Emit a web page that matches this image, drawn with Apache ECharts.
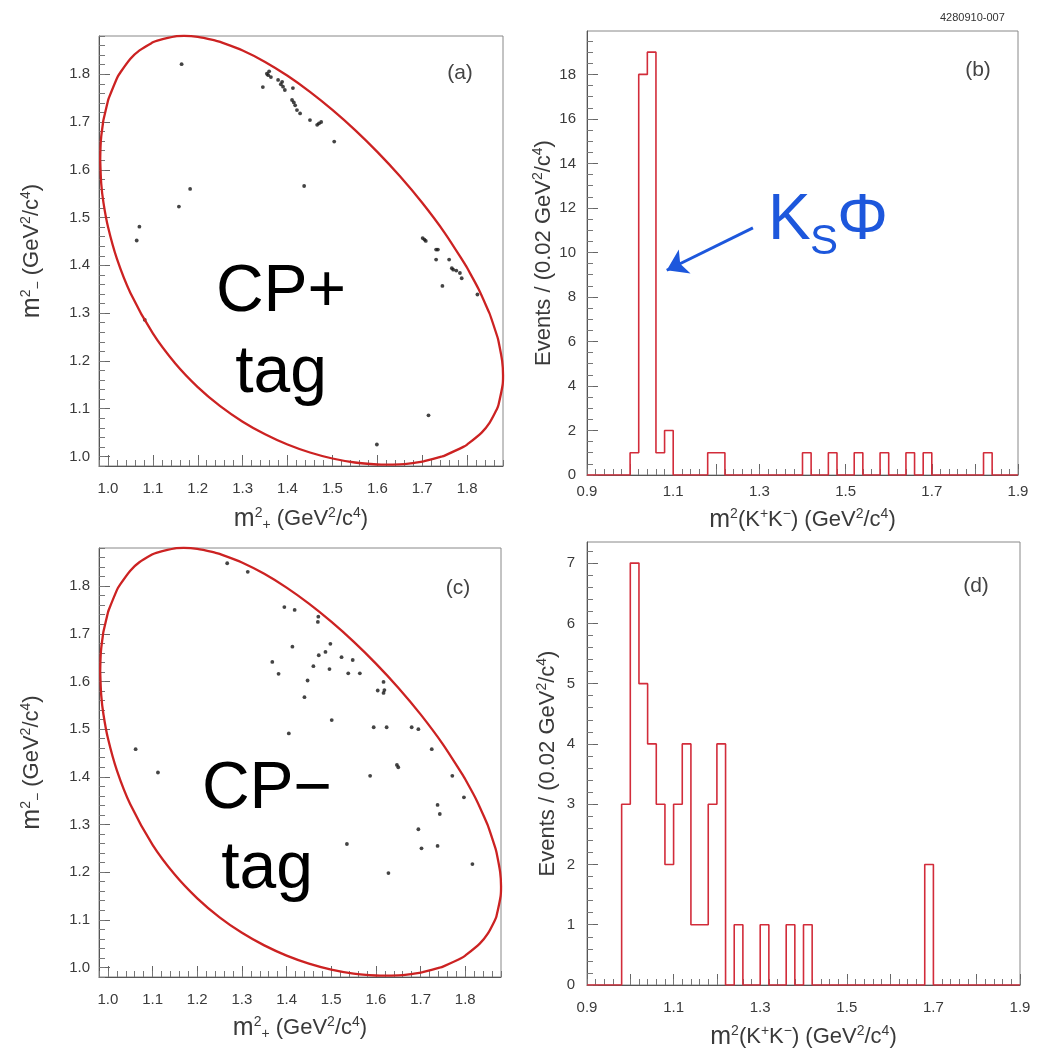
<!DOCTYPE html>
<html><head><meta charset="utf-8">
<script src="https://cdn.jsdelivr.net/npm/echarts@6/dist/echarts.min.js"></script>
<style>html,body{margin:0;padding:0;background:#fff}#chart{width:1043px;height:1053px}</style>
</head><body><div id="chart"></div>
<script>
// ---------------- DATA ----------------
// Dalitz plot boundary, [m2+, m2-]
const dalitzBoundary = [
[0.9827,1.6216],[0.9835,1.6500],[0.9850,1.6697],[0.9892,1.7000],[0.9900,1.7046],[1.0000,1.7446],[1.0018,1.7500],
[1.0200,1.7916],[1.0249,1.8000],[1.0500,1.8324],[1.0703,1.8500],[1.1000,1.8668],[1.1082,1.8700],[1.1500,1.8792],
[1.1696,1.8801],[1.2000,1.8781],[1.2412,1.8700],[1.2500,1.8676],[1.3000,1.8497],[1.3500,1.8258],[1.4000,1.7968],
[1.4500,1.7632],[1.5000,1.7254],[1.5500,1.6836],[1.6000,1.6375],[1.6500,1.5869],[1.7000,1.5309],[1.7500,1.4681],
[1.7968,1.4000],[1.8000,1.3948],[1.8258,1.3500],[1.8497,1.3000],[1.8500,1.2992],[1.8676,1.2500],[1.8700,1.2412],
[1.8781,1.2000],[1.8801,1.1696],[1.8792,1.1500],[1.8700,1.1082],[1.8668,1.1000],[1.8500,1.0703],[1.8324,1.0500],
[1.8000,1.0249],[1.7916,1.0200],[1.7500,1.0018],[1.7446,1.0000],[1.7046,0.9900],[1.7000,0.9892],[1.6697,0.9850],
[1.6500,0.9835],[1.6216,0.9827],[1.6000,0.9831],[1.5500,0.9873],[1.5000,0.9957],[1.4500,1.0082],[1.4000,1.0249],
[1.3500,1.0463],[1.3000,1.0727],[1.2500,1.1052],[1.2000,1.1451],[1.1500,1.1945],[1.1000,1.2574],[1.0500,1.3423],
[1.0200,1.4134],[1.0000,1.4807],[0.9900,1.5308],[0.9850,1.5708],[0.9827,1.6216]
];

// (a) CP+ tag events [m2+, m2-]
const cpPlusEvents = [
[1.345,1.773],[1.354,1.801],[1.359,1.806],[1.357,1.798],[1.363,1.794],[1.379,1.788],[1.388,1.784],[1.385,1.779],
[1.390,1.774],[1.394,1.767],[1.412,1.771],[1.410,1.746],[1.414,1.741],[1.417,1.735],[1.421,1.725],[1.428,1.718],
[1.450,1.704],[1.466,1.694],[1.470,1.697],[1.475,1.700],[1.504,1.659],
[1.701,1.457],[1.705,1.454],[1.708,1.451],[1.731,1.433],[1.735,1.433],[1.731,1.412],[1.760,1.412],[1.766,1.394],
[1.769,1.391],[1.776,1.389],[1.784,1.384],[1.788,1.373],[1.745,1.357],[1.823,1.339],
[1.164,1.821],[1.437,1.566],[1.183,1.560],[1.158,1.523],[1.070,1.481],[1.064,1.452],[1.082,1.286],
[1.714,1.086],[1.599,1.025]
];

// (c) CP- tag events [m2+, m2-]
const cpMinusEvents = [
[1.267,1.848],[1.313,1.830],[1.395,1.756],[1.418,1.750],[1.471,1.736],[1.470,1.725],[1.413,1.673],[1.498,1.679],
[1.487,1.662],[1.472,1.655],[1.523,1.651],[1.548,1.645],[1.368,1.641],[1.460,1.632],[1.496,1.626],[1.382,1.616],
[1.538,1.617],[1.564,1.617],[1.447,1.602],[1.617,1.599],[1.604,1.581],[1.619,1.582],[1.617,1.576],[1.440,1.567],
[1.501,1.519],[1.595,1.504],[1.624,1.504],[1.680,1.504],[1.695,1.500],[1.405,1.491],[1.725,1.458],[1.062,1.458],
[1.647,1.425],[1.650,1.420],[1.112,1.409],[1.587,1.402],[1.771,1.402],[1.797,1.357],[1.738,1.341],[1.743,1.322],
[1.695,1.290],[1.535,1.259],[1.702,1.250],[1.738,1.255],[1.816,1.217],[1.628,1.198]
];

// Histograms of m2(K+K-): bins of 0.02 starting at 0.9
const binStart = 0.9;
const binWidth = 0.02;
const countsCPplus = [
0,0,0,0,0,1,18,19,1,2,
0,0,0,0,1,1,0,0,0,0,
0,0,0,0,0,1,0,0,1,0,
0,1,0,0,1,0,0,1,0,1,
0,0,0,0,0,0,1,0,0,0
];
const countsCPminus = [
0,0,0,0,3,7,5,4,3,2,
3,4,1,1,3,4,0,1,0,0,
1,0,0,1,0,1,0,0,0,0,
0,0,0,0,0,0,0,0,0,2,
0,0,0,0,0,0,0,0,0,0
];

// Tick labels
const dalitzTickLabels = [1.0,1.1,1.2,1.3,1.4,1.5,1.6,1.7,1.8];
const massTickLabels = [0.9,1.1,1.3,1.5,1.7,1.9];
const massMajorTicks = [0.9,1.0,1.1,1.2,1.3,1.4,1.5,1.6,1.7,1.8,1.9];
const eventsTickLabelsB = [0,2,4,6,8,10,12,14,16,18];
const eventsTickLabelsD = [0,1,2,3,4,5,6,7];

// ---------------- BUILD ----------------
const FONT = "'Liberation Sans', Arial, Helvetica, sans-serif";
function seq(a, b, s) { const out = []; const n = Math.round((b - a) / s); for (let k = 0; k <= n; k++) out.push(Math.round((a + k * s) * 1e6) / 1e6); return out; }
function histToSteps(counts) {
  const d = counts.map((c, i) => [binStart + i * binWidth, c]);
  d.push([binStart + counts.length * binWidth, 0]);
  return d;
}
const TC = '#3a3a3a';
const titleRich = {
  t: {fontSize: 22, color: TC, fontFamily: FONT, lineHeight: 26},
  m: {fontSize: 25, color: TC, fontFamily: FONT, lineHeight: 26},
  sup: {fontSize: 14, color: TC, fontFamily: FONT, verticalAlign: 'top', lineHeight: 26},
  sub: {fontSize: 14, color: TC, fontFamily: FONT, verticalAlign: 'bottom', lineHeight: 26}
};
function axisPair(dim, grid, min, max, labelVals, majorVals, minorVals, fmt, margin, name, nameGap) {
  const pos = dim === 'x' ? 'bottom' : 'left';
  const main = {
    type: 'value', gridIndex: grid, position: pos, min: min, max: max,
    axisLine: {show: true, onZero: false, lineStyle: {color: '#555', width: 1}},
    axisTick: {show: true, inside: true, length: 11, customValues: majorVals, lineStyle: {color: '#666'}},
    axisLabel: {show: true, customValues: labelVals, formatter: fmt, margin: margin, fontSize: 15, color: '#3a3a3a', fontFamily: FONT},
    splitLine: {show: false},
    name: name, nameLocation: 'middle', nameGap: nameGap,
    nameTextStyle: {rich: titleRich, color: TC, fontFamily: FONT, fontSize: 22}
  };
  if (dim === 'y') main.nameRotate = 90;
  const minor = {
    type: 'value', gridIndex: grid, position: pos, min: min, max: max,
    axisLine: {show: false, onZero: false},
    axisTick: {show: true, inside: true, length: 6, customValues: minorVals, lineStyle: {color: '#777'}},
    axisLabel: {show: false}, splitLine: {show: false}
  };
  return [main, minor];
}
const f1 = v => v.toFixed(1);
const f0 = v => String(Math.round(v));
const dalitzMinor = seq(0.98, 1.88, 0.02);
const massMinor = seq(0.9, 1.9, 0.02);

const xTitleDalitz = '{m|m}{sup|2}{sub|+}{t| (GeV}{sup|2}{t|/c}{sup|4}{t|)}';
const yTitleDalitz = '{m|m}{sup|2}{sub|\u2212}{t| (GeV}{sup|2}{t|/c}{sup|4}{t|)}';
const xTitleMass = '{m|m}{sup|2}{t|(K}{sup|+}{t|K}{sup|\u2212}{t|) (GeV}{sup|2}{t|/c}{sup|4}{t|)}';
const yTitleEvents = '{t|Events / (0.02 GeV}{sup|2}{t|/c}{sup|4}{t|)}';

const xAxes = [].concat(
  axisPair('x', 0, 0.98, 1.88, dalitzTickLabels, dalitzTickLabels, dalitzMinor, f1, 15, xTitleDalitz, 40),
  axisPair('x', 1, 0.9, 1.9, massTickLabels, massMajorTicks, massMinor, f1, 9, xTitleMass, 32),
  axisPair('x', 2, 0.98, 1.88, dalitzTickLabels, dalitzTickLabels, dalitzMinor, f1, 15, xTitleDalitz, 38),
  axisPair('x', 3, 0.9, 1.9, massTickLabels, massMajorTicks, massMinor, f1, 15, xTitleMass, 39)
);
const yAxes = [].concat(
  axisPair('y', 0, 0.98, 1.88, dalitzTickLabels, dalitzTickLabels, dalitzMinor, f1, 9, yTitleDalitz, 54),
  axisPair('y', 1, 0, 19.95, eventsTickLabelsB, eventsTickLabelsB, seq(0, 19.5, 0.5), f0, 11, yTitleEvents, 26),
  axisPair('y', 2, 0.98, 1.88, dalitzTickLabels, dalitzTickLabels, dalitzMinor, f1, 9, yTitleDalitz, 54),
  axisPair('y', 3, 0, 7.35, eventsTickLabelsD, eventsTickLabelsD, seq(0, 7.2, 0.2), f0, 12, yTitleEvents, 26)
);

const RED_CONTOUR = '#cc2222';
const RED_HIST = '#d22c3a';
const BLUE = '#1d57dc';

const option = {
  animation: false,
  backgroundColor: '#fff',
  grid: [
    {left: 99, top: 36, width: 404, height: 430, show: true, borderColor: '#888', borderWidth: 1},
    {left: 587, top: 31, width: 431, height: 444, show: true, borderColor: '#888', borderWidth: 1},
    {left: 99, top: 548, width: 402, height: 429, show: true, borderColor: '#888', borderWidth: 1},
    {left: 587, top: 542, width: 433, height: 443, show: true, borderColor: '#888', borderWidth: 1}
  ],
  xAxis: xAxes,
  yAxis: yAxes,
  series: [
    {type: 'line', xAxisIndex: 0, yAxisIndex: 0, data: dalitzBoundary, showSymbol: false, smooth: 0.3, clip: false,
     lineStyle: {color: RED_CONTOUR, width: 2.3}, silent: true},
    {type: 'scatter', xAxisIndex: 0, yAxisIndex: 0, data: cpPlusEvents, symbolSize: 3.8, itemStyle: {color: '#151515'}},
    {type: 'line', xAxisIndex: 2, yAxisIndex: 2, data: histToSteps(countsCPplus), step: 'end', showSymbol: false,
     lineStyle: {color: RED_HIST, width: 1.6}, silent: true,
     markLine: {silent: true, symbol: ['none', 'arrow'], symbolSize: 20, animation: false,
       lineStyle: {color: BLUE, width: 3, type: 'solid'}, label: {show: false},
       data: [[{coord: [1.285, 11.1]}, {coord: [1.085, 9.2]}]]}},
    {type: 'line', xAxisIndex: 4, yAxisIndex: 4, data: dalitzBoundary, showSymbol: false, smooth: 0.3, clip: false,
     lineStyle: {color: RED_CONTOUR, width: 2.3}, silent: true},
    {type: 'scatter', xAxisIndex: 4, yAxisIndex: 4, data: cpMinusEvents, symbolSize: 3.8, itemStyle: {color: '#151515'}},
    {type: 'line', xAxisIndex: 6, yAxisIndex: 6, data: histToSteps(countsCPminus), step: 'end', showSymbol: false,
     lineStyle: {color: RED_HIST, width: 1.6}, silent: true}
  ],
  graphic: [
    {type: 'text', left: 940, top: 12, style: {text: '4280910-007', font: '11px ' + FONT, fill: '#333'}},
    {type: 'text', x: 460, y: 73, style: {text: '(a)', font: '21px ' + FONT, fill: '#444', align: 'center', verticalAlign: 'middle'}},
    {type: 'text', x: 978, y: 70, style: {text: '(b)', font: '21px ' + FONT, fill: '#444', align: 'center', verticalAlign: 'middle'}},
    {type: 'text', x: 458, y: 588, style: {text: '(c)', font: '21px ' + FONT, fill: '#444', align: 'center', verticalAlign: 'middle'}},
    {type: 'text', x: 976, y: 586, style: {text: '(d)', font: '21px ' + FONT, fill: '#444', align: 'center', verticalAlign: 'middle'}},
    {type: 'text', x: 281, y: 293, style: {text: 'CP+', font: '66px ' + FONT, fill: '#000', align: 'center', verticalAlign: 'middle'}},
    {type: 'text', x: 281, y: 374, style: {text: 'tag', font: '66px ' + FONT, fill: '#000', align: 'center', verticalAlign: 'middle'}},
    {type: 'text', x: 267, y: 790, style: {text: 'CP\u2212', font: '66px ' + FONT, fill: '#000', align: 'center', verticalAlign: 'middle'}},
    {type: 'text', x: 267, y: 870, style: {text: 'tag', font: '66px ' + FONT, fill: '#000', align: 'center', verticalAlign: 'middle'}},
    {type: 'text', x: 768, y: 221, style: {text: 'K', font: '64px ' + FONT, fill: BLUE, align: 'left', verticalAlign: 'middle'}},
    {type: 'text', x: 810, y: 242, style: {text: 'S', font: '42px ' + FONT, fill: BLUE, align: 'left', verticalAlign: 'middle'}},
    {type: 'text', x: 837, y: 221, style: {text: '\u03A6', font: '64px ' + FONT, fill: BLUE, align: 'left', verticalAlign: 'middle'}}
  ]
};
const chart = echarts.init(document.getElementById('chart'), null, {renderer: 'canvas'});
chart.setOption(option);
</script>
</body></html>
